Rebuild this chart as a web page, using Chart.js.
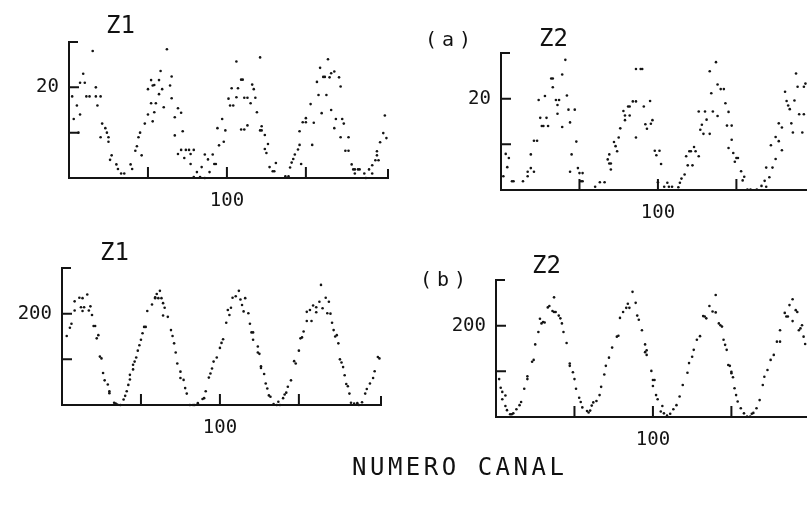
<!DOCTYPE html>
<html>
<head>
<meta charset="utf-8">
<script src="https://cdn.jsdelivr.net/npm/chart.js@4"></script>
<style>
  html, body { margin: 0; padding: 0; width: 807px; height: 505px; overflow: hidden; background: #fff; }
  canvas { position: absolute; left: 0; top: 0; }
  .lbl { position: absolute; font-family: "DejaVu Sans Mono", monospace; color: #111; white-space: nowrap; line-height: 1; }
</style>
</head>
<body>
<canvas id="za1" width="840" height="505"></canvas>
<canvas id="za2" width="840" height="505"></canvas>
<canvas id="zb1" width="840" height="505"></canvas>
<canvas id="zb2" width="840" height="505"></canvas>

<div class="lbl" style="left:106px;top:13px;font-size:24px;">Z1</div>
<div class="lbl" style="left:425px;top:29px;font-size:20px;letter-spacing:5px;">(a)</div>
<div class="lbl" style="left:539px;top:26px;font-size:24px;">Z2</div>
<div class="lbl" style="left:100px;top:240px;font-size:24px;">Z1</div>
<div class="lbl" style="left:420px;top:269px;font-size:20px;letter-spacing:5px;">(b)</div>
<div class="lbl" style="left:532px;top:253px;font-size:24px;">Z2</div>
<div class="lbl" style="left:352px;top:455px;font-size:24px;letter-spacing:3.5px;">NUMERO CANAL</div>

<script>
// canal / contagens
const xTicks = [50, 100, 150];
const xLabel = 100;

// (a) Z1
const za1Ch = [2,3,5,6,7,7,9,10,11,13,15,17,17,18,20,20,21,23,24,25,25,26,27,30,31,33,35,39,40,42,43,44,45,46,48,50,50,52,52,53,53,54,54,55,57,57,58,59,60,62,64,65,65,67,67,69,69,71,71,72,73,74,76,77,77,79,79,81,83,84,86,86,88,89,91,92,93,94,95,97,98,99,101,102,103,104,106,106,107,109,109,110,111,111,113,113,115,116,117,118,119,121,121,122,122,124,124,125,126,127,129,130,131,137,139,140,141,142,143,145,146,146,147,148,150,150,153,154,155,157,158,159,160,161,162,163,164,165,166,166,168,168,169,171,172,172,173,174,175,177,177,179,180,181,181,183,184,187,188,190,192,192,194,195,195,196,197,199,200,201];
const za1Val = [18,13,16,10,21,14,23,21,18,18,28,20,18,16,18,9,12,11,10,9,8,4,5,3,2,1,1,3,2,6,7,9,10,5,12,14,19.6,16.5,21.6,12.5,20.4,14.5,20.5,16.5,21.6,18.5,23.6,19.6,15.6,28.4,20.4,22.4,17.6,13.4,9.4,15.4,5.3,14.4,6.2,10.3,4.4,6.2,6.2,5.3,3.1,6.2,0.2,1.3,0.2,2.4,0,5.2,4.1,1.3,5.2,3.1,3.1,11,7.2,13,8,10.5,17.5,16,19.8,16,25.7,17.8,19.8,21.7,10.7,21.7,10.7,17.7,17.7,11.6,16.5,20.6,19.6,17.7,14.5,26.6,10.5,10.5,11.4,9.5,6.4,5.5,7.5,2.4,1.5,1.5,3.3,0.4,0.4,2.3,3.4,4.2,5.2,6.3,7.3,10.3,3.1,12.3,13.2,12.3,16.3,7.3,12.2,21.2,18.3,24.3,14.3,22.3,22.3,18.3,26.2,22.2,23.1,15,23.5,11,13,22.2,20.2,9,13,12,6,9,6,3,1.9,1.9,1,1.9,1.9,1,0,1.9,2.8,1,3.9,5,5.9,3.9,7.9,9.9,13.8,8.8];

// (a) Z2
const za2Ch = [1.5,3,4,5,7,8,14,17,17,19,19,21,21,23,24,25,26,27,28,29,30,32,33,33,35,36,37,36,39,39,41,42,43,44,45,44,47,48,49,50,52,51,52,60,63,66,68,69,70,70,69,72,73,74,75,76,79,79,78,81,82,82,84,86,86,86,89,90,91,92,93,95,95.5,96.5,98,101,99,102,100,104,107,109,106,113,114,115,117,118,119,122,120,121,124,123,126,126,130,128,127,129,133,131,133,134,135,137,138,138,140,142,143,144,147,145,147,145,148,150,151,149,153,155,154,157,159,163,166,168,169,171,169,173,175,172,175,177,179,177,179,182,183,184,181,185,186,187,188,189,190,193,192,193,194];
const za2Val = [3,7.9,5,7,1.9,1.9,1.9,3,4,7.8,4.8,4,10.8,10.8,19.7,15.8,14,14,20.6,15.8,14,24.4,24.4,22.5,19.7,18.6,19.7,16.7,25.3,13.8,28.5,20.7,17.6,14.8,7.8,4,17.6,10.6,4.8,3.7,3.7,1.9,1.9,0.7,1.7,1.7,6.7,5.8,5.8,4.5,7.8,10.5,9.6,8.5,11.5,13.5,15.3,16.3,17.3,18.3,18.3,16.3,19.4,19.4,11.5,26.5,26.5,26.5,18.3,14.4,13.4,19.5,14.5,15.3,8.6,8.6,7.6,5.7,1.7,0.7,0.7,0.7,1.6,0.6,1.6,2.5,3.4,7.4,5.4,5.4,8.5,8.5,8.5,9.4,7.4,17.2,17.2,14.3,13.2,12.3,12.3,15.4,26,21.2,17.2,28,23.1,16.2,22.1,22.1,19,14.1,14.1,17.1,11,9.2,8.1,7,7,6.2,4.1,2.9,2.1,0.1,0.1,0.1,0.9,2,0.7,2.8,4.9,4.9,6.8,9.8,11.6,10.7,8.7,14.6,13.7,19.5,18.5,17.7,21.5,14.6,12.6,19.6,25.5,22.6,16.6,16.6,12.6,22.6,23.3];

// (b) Z1
const zb1Ch = [3,5,6,8,8,11,12,13,13,14,16,17,18,19,20,21,22,23,24,25,26,27,29,30,30,33,34,35,37,39,40,41,42,43,43,45,45,46,47,48,49,50,51,52,53,54,57,59,59,60,61,62,63,64,64,65,67,69,70,71,72,73,75,75,77,78,79,81,83,84,86,89,90,91,93,94,95,96,98,100,101,102,104,105,107,106,108,110,112,113,114,116,115,118,119,120,121,121,124,124,125,126,126,128,129,130,131,132,134,136,137,138,140,141,142,143,145,147,148,150,151,152,153,155,158,155,157,159,161,161,164,163,165,167,169,168,170,171,172,173,174,175,176,177,178,179,180,181,182,183,185,187,188,190,192,193,195,197,198,200,201];
const zb1Val = [151,169,178,227,207,235,214,234,206,214,242,207,216,197,173,173,146,153,106,102,70,54,45,30,26,5,3,1,0,12,20,30,44,56,66,78,88,95,104,119,131,143,157,171,171,206,220,236,234,243,234,250,234,223,196,213,193,164,151,135,115,91,73,59,55,37,25,0,0,0,4,13,15,30,60,69,80,95,104,125,136,144,180,208,213,197,235,238,250,231,219,234,205,201,178,159,159,143,128,115,112,85,81,68,47,36,21,18,2,0,7,0,15,23,27,40,54,96,91,119,146,148,161,184,184,204,208,218,214,203,263,226,212,235,226,201,200,180,164,150,153,135,100,93,83,65,46,41,25,5,3,4,0,6,25,35,47,59,74,105,102];

// (b) Z2
const zb2Ch = [2,3,4,6,4,6,7,9,10,11,13,15,16,18,20,20,23,24,25,27,29,30,31,28,33,34,36,37,38,37,40,41,42,43,45,47,47,49,50,51,53,54,55,58,59,60,61,62,64,66,67,69,70,72,74,77,78,79,81,83,84,85,87,89,90,91,93,95,96,96,95,99,100,101,100,102,103,106,105,107,109,111,113,115,117,119,122,123,125,126,128,130,132,133,134,136,138,140,140,142,143,144,145,146,147,148,149,150,151,150,152,153,154,156,158,160,162,163,164,166,168,170,171,173,175,177,179,181,181,184,185,186,187,189,189,191,192,193,194,195,196,197];
const zb2Val = [83,64,55,47,39,24,15,6,6,8,17,26,33,62,83,89,121,125,159,186,205,208,207,215,240,243,232,230,230,262,222,216,205,186,162,117,112,98,83,62,42,33,21,13,10,14,25,32,35,48,66,93,112,130,152,176,178,217,230,239,248,239,274,250,222,213,190,159,146,136,142,101,81,81,68,48,39,24,12,8,3,7,17,26,45,70,97,118,132,147,169,177,221,220,216,243,231,229,267,205,201,198,169,158,147,114,112,99,87,96,63,48,34,19,8,1,1,7,9,19,37,70,88,103,125,136,165,165,190,228,220,220,245,258,210,234,230,190,194,201,176,160];

const ink = '#141414';

// eixos desenhados como na figura original: ticks para dentro, colchete no topo
const plotterAxes = {
    id: 'plotterAxes',
    afterDraw(chart, args, opts) {
        const ctx = chart.ctx;
        const xs = chart.scales.x, ys = chart.scales.y;
        const x0 = xs.getPixelForValue(xs.min);
        const x1 = xs.getPixelForValue(xs.max);
        const y0 = ys.getPixelForValue(0);
        const y1 = ys.getPixelForValue(ys.max);
        ctx.save();
        ctx.strokeStyle = ink;
        ctx.lineWidth = 2;
        ctx.lineCap = 'square';
        ctx.beginPath();
        ctx.moveTo(x0 + 8, y1);
        ctx.lineTo(x0, y1);
        ctx.lineTo(x0, y0);
        ctx.lineTo(x1, y0);
        ctx.lineTo(x1, y0 - 8);
        opts.yTicks.forEach(v => {
            const y = ys.getPixelForValue(v);
            ctx.moveTo(x0, y);
            ctx.lineTo(x0 + 9, y);
        });
        xTicks.forEach(v => {
            const x = xs.getPixelForValue(v);
            ctx.moveTo(x, y0);
            ctx.lineTo(x, y0 - 10);
        });
        ctx.stroke();

        ctx.fillStyle = ink;
        ctx.font = '19px "DejaVu Sans Mono"';
        ctx.textAlign = 'right';
        ctx.textBaseline = 'middle';
        ctx.fillText(String(opts.yLabel), x0 - 10, ys.getPixelForValue(opts.yLabel));
        ctx.textAlign = 'center';
        ctx.textBaseline = 'top';
        ctx.fillText(String(xLabel), xs.getPixelForValue(xLabel), y0 + 14);
        ctx.restore();
    }
};

function makePanel(id, ch, val, box, yMax, yTicks, yLabel) {
    const pts = ch.map((c, i) => ({ x: c, y: val[i] }));
    const canvas = document.getElementById(id);
    return new Chart(canvas.getContext('2d'), {
        type: 'scatter',
        data: {
            datasets: [{
                data: pts,
                pointRadius: 1.3,
                pointBorderWidth: 0,
                pointBackgroundColor: ink,
                clip: 6
            }]
        },
        options: {
            responsive: false,
            animation: false,
            events: [],
            layout: {
                padding: {
                    left: box.left,
                    top: box.top,
                    right: canvas.width - box.right,
                    bottom: canvas.height - box.bottom
                }
            },
            scales: {
                x: { type: 'linear', min: 0, max: 202, display: false },
                y: { type: 'linear', min: 0, max: yMax, display: false }
            },
            plugins: {
                legend: { display: false },
                tooltip: { enabled: false },
                plotterAxes: { yTicks: yTicks, yLabel: yLabel }
            }
        },
        plugins: [plotterAxes]
    });
}

makePanel('za1', za1Ch, za1Val, { left: 69, right: 388, top: 42, bottom: 178 }, 30, [10, 20], 20);
makePanel('za2', za2Ch, za2Val, { left: 501, right: 818, top: 53, bottom: 190 }, 30, [10, 20], 20);
makePanel('zb1', zb1Ch, zb1Val, { left: 62, right: 381, top: 268, bottom: 405 }, 300, [100, 200], 200);
makePanel('zb2', zb2Ch, zb2Val, { left: 496, right: 813, top: 280, bottom: 417 }, 300, [100, 200], 200);
</script>
</body>
</html>
